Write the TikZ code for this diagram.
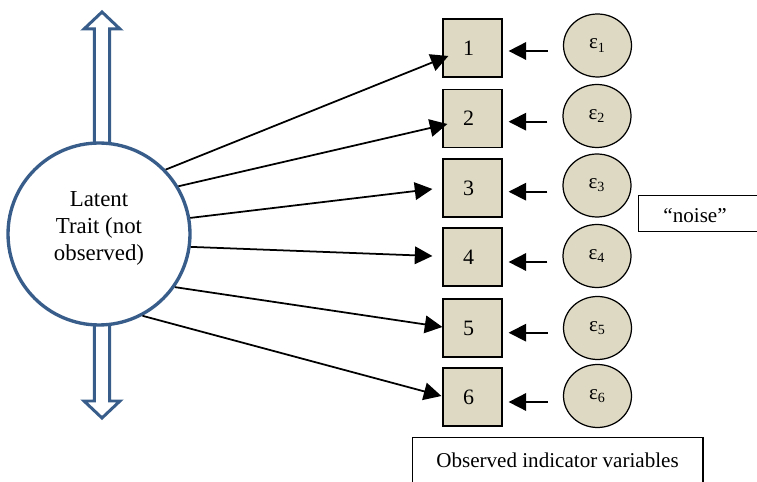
\documentclass[tikz,border=0pt]{standalone}
\usepackage{fontspec}
\setmainfont{Liberation Serif}
\usepackage{tikz}
\usetikzlibrary{calc,arrows.meta,shapes.geometric}

\definecolor{traitblue}{HTML}{385D8A}
\definecolor{itemtan}{HTML}{DDD9C3}

\tikzset{
  item/.style={draw, fill=itemtan, line width=0.7pt, minimum width=1.18cm, minimum height=1.16cm, text width=0.38cm, align=left, font=\fontsize{12.5}{14}\selectfont},
  err/.style={ellipse, draw, fill=itemtan, line width=0.7pt, minimum width=1.36cm, minimum height=1.26cm, inner sep=0pt, font=\fontsize{12}{14}\selectfont},
  load/.style={line width=1pt, -{Triangle[length=10pt,width=10pt]}},
  blockarrow/.style={draw=traitblue, line width=1.7pt, fill=white, line join=miter},
  notebox/.style={draw, line width=0.6pt, inner ysep=0pt, font=\fontsize{12}{14}\selectfont}
}

\begin{document}
\begin{tikzpicture}[x=0.02cm,y=-0.02cm]

\useasboundingbox (0,0) rectangle (757,482);
\clip (0,0) rectangle (757,482);

% double arrow behind the trait
\draw[blockarrow] (94.3,145) -- (94.3,29) -- (84,29) -- (102,12) -- (120,29) -- (109.7,29) -- (109.7,145);
\draw[blockarrow] (94.3,325) -- (94.3,401) -- (84,401) -- (102,418) -- (120,401) -- (109.7,401) -- (109.7,325);

\node[circle, draw=traitblue, line width=1.9pt, fill=white, minimum size=3.64cm, align=center, text depth=9pt, font=\fontsize{13}{15.3}\selectfont] (trait) at (99,234) {Latent\\Trait (not\\observed)};

\node[item] (i1) at (472.5,48) {1};
\node[item] (i2) at (472.5,118.5) {2};
\node[item] (i3) at (472.5,188) {3};
\node[item] (i4) at (472.5,257) {4};
\node[item] (i5) at (472.5,328) {5};
\node[item] (i6) at (472.5,397) {6};

\node[err] (e1) at (597.5,45.5) {ε\textsubscript{1}};
\node[err] (e2) at (597,116) {ε\textsubscript{2}};
\node[err] (e3) at (597,185.5) {ε\textsubscript{3}};
\node[err] (e4) at (597,256) {ε\textsubscript{4}};
\node[err] (e5) at (597.5,328) {ε\textsubscript{5}};
\node[err] (e6) at (597.5,396) {ε\textsubscript{6}};

\node[notebox, anchor=west, inner xsep=14.2pt, text width=4cm, align=left, text height=15.9pt, text depth=5.1pt] (noise) at (638,213.5) {``noise''};
\node[notebox, anchor=north, minimum width=5.82cm, text height=17pt, text depth=20pt] (obs) at (557.5,437) {Observed indicator variables};

% loadings
\draw[load] (trait.44) -- ($(i1.west)+(6,8)$);
\draw[load] (trait.31.5) -- ($(i2.west)+(5,5.5)$);
\draw[load] (trait.10) -- ($(i3.west)+(-10,1)$);
\draw[load] (trait.-8.7) -- ($(i4.west)+(-10,-1)$);
\draw[load] (trait.-35) -- ($(i5.west)+(0,-1)$);
\draw[load] (trait.-62.6) -- ($(i6.west)+(-1,-1)$);

% errors
\draw[load] ($(e1.west)+(-15,5.5)$) -- ($(i1.east)+(6,3)$);
\draw[load] ($(e2.west)+(-15,5.7)$) -- ($(i2.east)+(6,3.2)$);
\draw[load] ($(e3.west)+(-15,6.2)$) -- ($(i3.east)+(6,3.7)$);
\draw[load] ($(e4.west)+(-15,6)$) -- ($(i4.east)+(6,5)$);
\draw[load] ($(e5.west)+(-15,4.7)$) -- ($(i5.east)+(6,4.7)$);
\draw[load] ($(e6.west)+(-15,6)$) -- ($(i6.east)+(6,5)$);

\end{tikzpicture}
\end{document}
